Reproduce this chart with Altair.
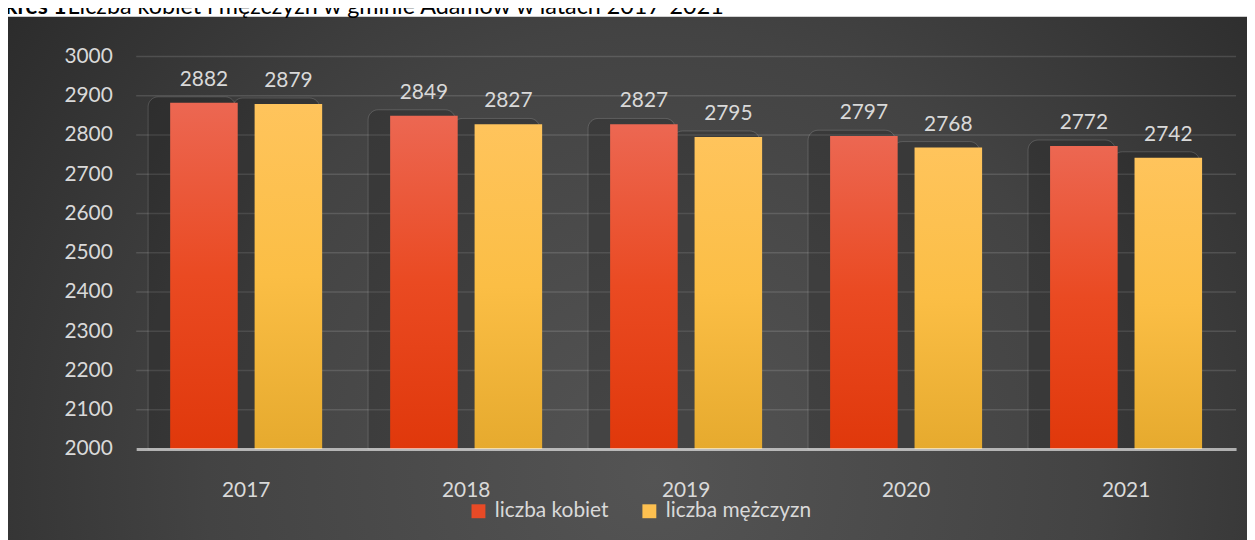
import altair as alt
import pandas as pd

years = ["2017", "2018", "2019", "2020", "2021"]
series = ["liczba kobiet", "liczba mężczyzn"]
kobiety = [2882, 2849, 2827, 2797, 2772]
mezczyzni = [2879, 2827, 2795, 2768, 2742]
y_ticks = [2000, 2100, 2200, 2300, 2400, 2500, 2600, 2700, 2800, 2900, 3000]
title_bold = "Wykres 1"
title_rest = "Liczba kobiet i mężczyzn w gminie Adamów w latach 2017-2021"

rows = []
for i, y in enumerate(years):
    rows.append({"year": y, "s": series[0], "value": kobiety[i]})
    rows.append({"year": y, "s": series[1], "value": mezczyzni[i]})
df = pd.DataFrame(rows)

FONT = "Lato"
LABEL = "#D9D9D9"
FS = 21
W, H = 1107, 395

yscale = alt.Scale(domain=[2000, 3000], nice=False, zero=False)
yaxis = alt.Axis(title=None, values=y_ticks, format="d", labelFontSize=FS, labelFont=FONT,
                 labelColor=LABEL, ticks=False, domain=False, grid=False, labelOverlap=False,
                 labelPadding=24, zindex=1)
xenc = alt.X("year:N", scale=alt.Scale(paddingInner=0.309, paddingOuter=0.1545),
             axis=alt.Axis(title=None, labelFontSize=FS, labelFont=FONT, labelColor=LABEL,
                           labelAngle=0, ticks=False, domainColor="#FFFFFF", domainOpacity=0.6,
                           domainWidth=3, labelPadding=31, zindex=1))
xoff = alt.XOffset("s:N", scale=alt.Scale(paddingInner=0.2, paddingOuter=0))

red_grad = alt.LinearGradient(gradient="linear", x1=0, y1=0, x2=0, y2=1, stops=[
    alt.GradientStop(offset=0, color="#EC6752"),
    alt.GradientStop(offset=0.5, color="#EA4A22"),
    alt.GradientStop(offset=1, color="#E0380B")])
yel_grad = alt.LinearGradient(gradient="linear", x1=0, y1=0, x2=0, y2=1, stops=[
    alt.GradientStop(offset=0, color="#FFC45C"),
    alt.GradientStop(offset=0.5, color="#FBBE45"),
    alt.GradientStop(offset=1, color="#E6AA2E")])
bg_grad = alt.RadialGradient(gradient="radial", x1=0.52, y1=0.65, r1=0, x2=0.52, y2=0.65, r2=0.72, stops=[
    alt.GradientStop(offset=0, color="#545454"),
    alt.GradientStop(offset=0.5, color="#434343"),
    alt.GradientStop(offset=1, color="#252525")])

base = alt.Chart(df)

background = alt.Chart(pd.DataFrame({"a": [0]})).mark_rect(fill=bg_grad).encode(
    x=alt.value(-129), x2=alt.value(1120), y=alt.value(-40), y2=alt.value(510))

grid = alt.Chart(pd.DataFrame({"v": y_ticks[1:]})).mark_rule(
    color="#FFFFFF", opacity=0.13, strokeWidth=1.5).encode(
    y=alt.Y("v:Q", scale=yscale, axis=yaxis))

halo = base.transform_calculate(top="datum.value + 15").mark_bar(
    width=alt.RelativeBandSize(band=1.29), cornerRadiusTopLeft=10, cornerRadiusTopRight=10,
    fill="#000000", fillOpacity=0.16, stroke="#FFFFFF", strokeOpacity=0.16, strokeWidth=1).encode(
    x=xenc, xOffset=xoff, y=alt.Y("top:Q", scale=yscale, axis=yaxis), y2=alt.datum(2000))

bars = base.mark_bar().encode(
    x=xenc, xOffset=xoff, y=alt.Y("value:Q", scale=yscale, axis=yaxis), y2=alt.datum(2000),
    fill=alt.condition(alt.datum.s == series[0], alt.value(red_grad), alt.value(yel_grad)))

labels = base.mark_text(dy=-17, fontSize=FS, font=FONT, color=LABEL, baseline="alphabetic").encode(
    x=xenc, xOffset=xoff, y=alt.Y("value:Q", scale=yscale, axis=yaxis), text="value:Q")

legend_layer = base.mark_square(opacity=0, size=1).encode(
    x=alt.value(0), y=alt.value(0),
    color=alt.Color("s:N", scale=alt.Scale(domain=series, range=["#E84A26", "#FDC050"]),
                    legend=alt.Legend(title=None, orient="none", direction="horizontal",
                                      legendX=334, legendY=447, padding=0,
                                      symbolType="square", symbolSize=196, symbolOpacity=1,
                                      symbolStrokeWidth=0, labelFontSize=21, labelFont=FONT,
                                      labelColor=LABEL, labelOffset=6, columnPadding=30)))

t1 = alt.Chart(pd.DataFrame({"t": [title_bold]})).mark_text(
    align="right", baseline="alphabetic", fontSize=23, font=FONT, fontWeight="bold", color="#000000").encode(
    x=alt.value(-70), y=alt.value(-43), text="t:N")
t2 = alt.Chart(pd.DataFrame({"t": [title_rest]})).mark_text(
    align="left", baseline="alphabetic", fontSize=23.5, font=FONT, color="#000000").encode(
    x=alt.value(-69), y=alt.value(-43), text="t:N")

chart = alt.layer(background, grid, halo, bars, labels, legend_layer, t1, t2).properties(
    width=W, height=H,
    padding={"left": 129, "top": 47, "right": 11, "bottom": 100},
    autosize=alt.AutoSizeParams(type="none"),
).configure_view(strokeWidth=0)

chart.save("out.html", embed_options={"renderer": "svg", "actions": False})
